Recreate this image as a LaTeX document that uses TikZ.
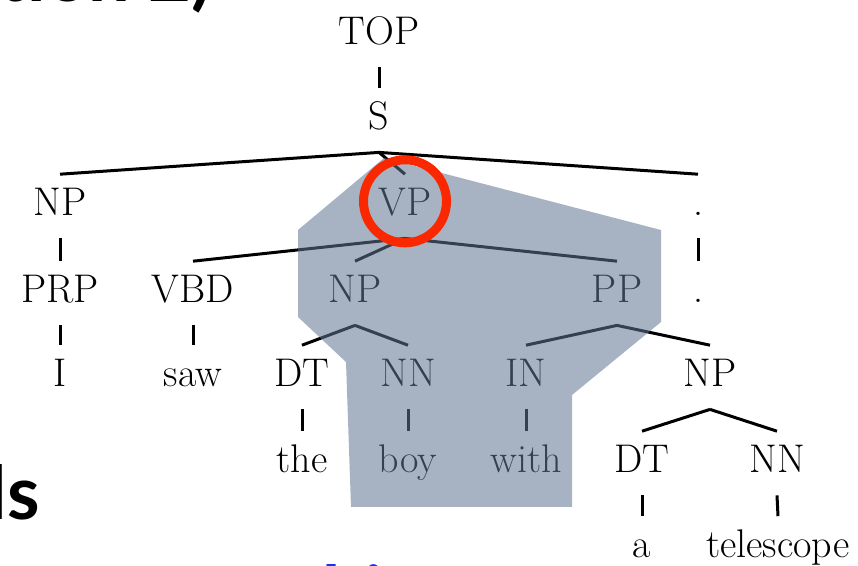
\documentclass[tikz,border=0pt]{standalone}
\usepackage{fontspec}
\newfontfamily\slidefont{Lato}
\usepackage{tikz}
\usetikzlibrary{positioning}
\definecolor{vpshade}{RGB}{95,116,144}
\definecolor{ring}{RGB}{250,40,0}
\definecolor{linkblue}{RGB}{20,50,250}
\tikzset{
  tag/.style={anchor=base, inner xsep=0pt, inner ysep=7pt,
              text height=13.7pt, text depth=4pt,
              font=\fontsize{20}{24}\selectfont},
  branch/.style={line width=1.5pt},
  slide/.style={inner sep=0pt, font=\slidefont\bfseries\fontsize{37}{40}\selectfont}
}

\begin{document}
\begin{tikzpicture}[x=0.5pt, y=-0.5pt]
  \useasboundingbox (0,0) rectangle (858,566);
  % bits of the slide around the tree
  \begin{scope}
    \clip (0,0) rectangle (858,566);
    \node[slide, anchor=base east] (title) at (212,2) {ation 2)};
    \node[slide, anchor=base east] (head) at (40,520) {ls};
    \node[slide, anchor=base west, text=linkblue] (link) at (322,620) {bi};
  \end{scope}

  % the tree
  \node[tag] (top) at (379,45) {TOP};
  \node[tag] (s) at (379,130) {S};
  \node[tag] (np1) at (60,216) {NP};
  \node[tag] (vp) at (405,216) {VP};
  \node[tag] (pu1) at (698,216) {.};
  \node[tag] (prp) at (60,303) {PRP};
  \node[tag] (vbd) at (193,303) {VBD};
  \node[tag] (np2) at (355,303) {NP};
  \node[tag] (pp) at (617,303) {PP};
  \node[tag] (pu2) at (698,303) {.};
  \node[tag] (i) at (60,387) {I};
  \node[tag] (saw) at (193,387) {saw};
  \node[tag] (dt1) at (302,387) {DT};
  \node[tag] (nn1) at (408,387) {NN};
  \node[tag] (in1) at (526,387) {IN};
  \node[tag] (np3) at (710,387) {NP};
  \node[tag] (the) at (302,473) {the};
  \node[tag] (boy) at (408,473) {boy};
  \node[tag] (with) at (526,473) {with};
  \node[tag] (dt2) at (642,473) {DT};
  \node[tag] (nn2) at (777,473) {NN};
  \node[tag] (a) at (642,558) {a};
  \node[tag] (tele) at (778,558) {telescope};

  \foreach \p/\c in {top/s, np1/prp, prp/i, vbd/saw, pu1/pu2,
                     dt1/the, nn1/boy, in1/with, dt2/a, nn2/tele,
                     s/np1, s/vp, s/pu1, vp/vbd, vp/np2, vp/pp,
                     np2/dt1, np2/nn1, pp/in1, pp/np3, np3/dt2, np3/nn2}
    \draw[branch] (\p.south) -- (\c.north);

  % highlighted constituent
  \fill[vpshade, fill opacity=0.55] (298,230) -- (384,158) -- (661,230) -- (661,322)
    -- (572,395) -- (572,507) -- (351,507) -- (346,362) -- (298,317) -- cycle;
  \draw[ring, line width=4.5pt] ([yshift=2.5pt]vp.center) circle[radius=20.75pt];
\end{tikzpicture}
\end{document}
